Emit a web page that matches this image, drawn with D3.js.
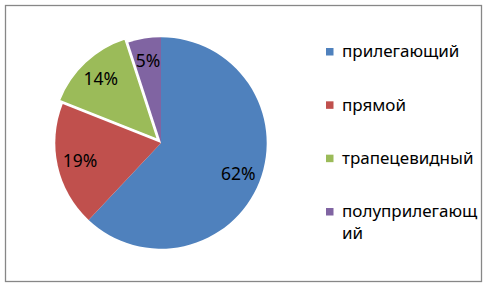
<!DOCTYPE html>
<html>
<head>
<meta charset="utf-8">
<script src="https://cdn.jsdelivr.net/npm/d3@7"></script>
<style>
  body { margin: 0; background: #fff; }
  svg { display: block; font-family: "Noto Sans", sans-serif; }
</style>
</head>
<body>
<svg width="487" height="286"></svg>
<script>
const categories = ['прилегающий', 'прямой', 'трапецевидный', 'полуприлегающий'];
const values = [62, 19, 14, 5];
const colors = ['#4F81BD', '#C0504D', '#9BBB59', '#8064A2'];
const exploded = [false, false, true, false];

const svg = d3.select('svg');
const width = +svg.attr('width');
const height = +svg.attr('height');

svg.append('rect')
  .attr('x', 5.5).attr('y', 5.5)
  .attr('width', width - 11).attr('height', height - 10)
  .attr('fill', '#fff')
  .attr('stroke', '#878787')
  .attr('stroke-width', 1.3);

const cx = 161, cy = 143, radius = 105.7;
const data = categories.map((c, i) => ({ name: c, value: values[i], color: colors[i], explode: exploded[i] }));

const pie = d3.pie().value(d => d.value).sort(null);
const arc = d3.arc().innerRadius(0).outerRadius(radius);
const labelArc = d3.arc().innerRadius(83).outerRadius(83);
const arcs = pie(data);

const total = d3.sum(values);
const offset = d => {
  if (!d.data.explode) return [0, 0];
  const a = (d.startAngle + d.endAngle) / 2;
  return [Math.sin(a) * 5, -Math.cos(a) * 5];
};

const g = svg.append('g').attr('transform', `translate(${cx},${cy})`);

const slices = g.selectAll('g.slice').data(arcs)
  .enter().append('g')
    .attr('class', 'slice')
    .attr('transform', d => `translate(${offset(d)})`);

slices.append('path')
  .attr('d', arc)
  .attr('fill', d => d.data.color)
  .attr('stroke', d => d.data.explode ? '#fff' : 'none')
  .attr('stroke-width', 1.5);

slices.append('text')
  .attr('transform', d => `translate(${labelArc.centroid(d)})`)
  .attr('text-anchor', 'middle')
  .attr('dy', '0.35em')
  .attr('font-size', 17.5)
  .attr('fill', '#000')
  .text(d => Math.round(d.value / total * 100) + '%');

// legend
const legend = svg.append('g').attr('transform', 'translate(326,0)');
const legendY = d3.scalePoint().domain(categories).range([51.5, 211.5]);
const maxTextWidth = 136;

const items = legend.selectAll('g.item').data(data)
  .enter().append('g')
    .attr('class', 'item')
    .attr('transform', d => `translate(0,${legendY(d.name)})`);

items.append('rect')
  .attr('x', 0).attr('y', -3.5)
  .attr('width', 7.5).attr('height', 7.5)
  .attr('fill', d => d.color);

items.append('text')
  .attr('x', 16)
  .attr('font-size', 17)
  .attr('fill', '#000')
  .each(function (d) {
    const text = d3.select(this);
    // wrap by characters like the original
    const lines = [];
    let line = '';
    const probe = text.append('tspan');
    for (const ch of d.name) {
      probe.text(line + ch);
      if (probe.node().getComputedTextLength() > maxTextWidth && line) {
        lines.push(line);
        line = ch;
      } else {
        line += ch;
      }
    }
    lines.push(line);
    probe.remove();
    lines.forEach((l, i) => {
      text.append('tspan')
        .attr('x', 16)
        .attr('y', i * 22)
        .attr('dy', '0.35em')
        .text(l);
    });
  });
</script>
</body>
</html>
